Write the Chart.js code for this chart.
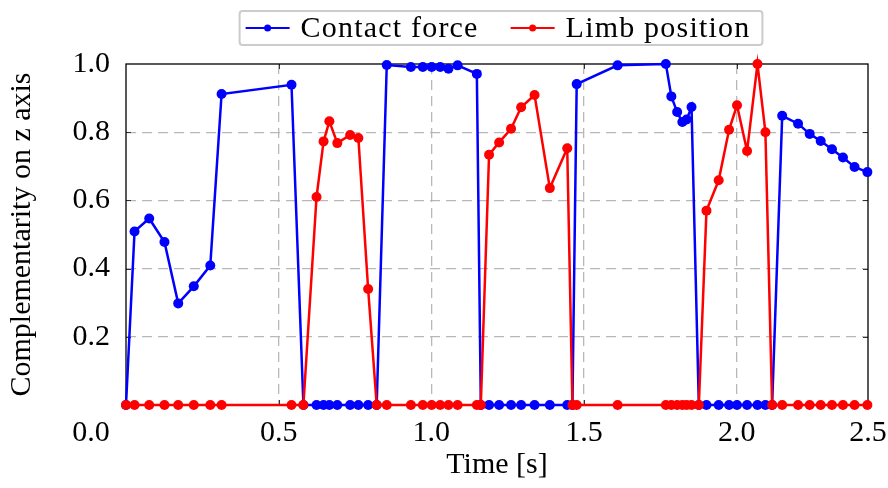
<!DOCTYPE html>
<html>
<head>
<meta charset="utf-8">
<script src="https://cdn.jsdelivr.net/npm/chart.js@4.4.1/dist/chart.umd.min.js"></script>
<style>
  html, body { margin: 0; padding: 0; background: #fff; }
  canvas { display: block; }
</style>
</head>
<body>
<canvas id="chart" width="888" height="488"></canvas>
<script>
// Sample times [s]
const times = [
  0.000, 0.028, 0.076, 0.126, 0.171, 0.222, 0.276, 0.313, 0.542, 0.581,
  0.624, 0.647, 0.666, 0.692, 0.734, 0.761, 0.793, 0.821, 0.854, 0.933,
  0.972, 1.001, 1.029, 1.056, 1.086, 1.149, 1.162, 1.189, 1.222, 1.261,
  1.294, 1.338, 1.388, 1.445, 1.462, 1.476, 1.610, 1.768, 1.786, 1.805,
  1.822, 1.836, 1.852, 1.876, 1.901, 1.941, 1.975, 2.001, 2.034, 2.068,
  2.094, 2.116, 2.149, 2.201, 2.239, 2.275, 2.312, 2.348, 2.386, 2.428
];

const contactForce = [
  0, 0.509, 0.547, 0.478, 0.298, 0.348, 0.409, 0.912, 0.939, 0,
  0, 0, 0, 0, 0, 0, 0, 0, 0.997, 0.991,
  0.991, 0.991, 0.991, 0.986, 0.996, 0.971, 0, 0, 0, 0,
  0, 0, 0, 0, 0, 0.941, 0.996, 1.0, 0.905, 0.859,
  0.830, 0.837, 0.874, 0, 0, 0, 0, 0, 0, 0,
  0, 0, 0.848, 0.825, 0.795, 0.774, 0.750, 0.726, 0.698, 0.683
];

const limbPosition = [
  0, 0, 0, 0, 0, 0, 0, 0, 0, 0,
  0.610, 0.773, 0.832, 0.768, 0.792, 0.783, 0.340, 0, 0, 0,
  0, 0, 0, 0, 0, 0, 0, 0.734, 0.770, 0.810,
  0.873, 0.909, 0.636, 0.753, 0, 0, 0, 0, 0, 0,
  0, 0, 0, 0, 0.570, 0.659, 0.807, 0.879, 0.745, 1.0,
  0.800, 0, 0, 0, 0, 0, 0, 0, 0, 0
];

const seriesNames = ['Contact force', 'Limb position'];
const seriesColors = ['#0000ff', '#ff0000'];

// x ticks: the last one sits on the right edge of the plot
const xTicks = [0.5, 1.0, 1.5, 2.0, 2.43];
const xTickLabels = ['0.5', '1.0', '1.5', '2.0', '2.5'];
const cornerLabel = '0.0';

const FONT = "'Liberation Serif', 'Times New Roman', serif";
const FS = 30;

Chart.defaults.font.family = FONT;
Chart.defaults.font.size = FS;
Chart.defaults.color = '#000';

function toPoints(vals) {
  return times.map((t, i) => ({ x: t, y: vals[i] }));
}

// frame, inner tick marks and the shared 0.0 corner label
const framePlugin = {
  id: 'frame',
  beforeDatasetsDraw(chart) {
    const { ctx, chartArea: a, scales } = chart;
    ctx.save();
    ctx.strokeStyle = '#333';
    ctx.lineWidth = 1;
    xTicks.slice(0, -1).forEach(v => {
      const px = Math.round(scales.x.getPixelForValue(v)) + 0.5;
      ctx.beginPath();
      ctx.moveTo(px, a.bottom); ctx.lineTo(px, a.bottom - 5);
      ctx.moveTo(px, a.top); ctx.lineTo(px, a.top + 5);
      ctx.stroke();
    });
    [0.2, 0.4, 0.6, 0.8].forEach(v => {
      const py = Math.round(scales.y.getPixelForValue(v)) + 0.5;
      ctx.beginPath();
      ctx.moveTo(a.left, py); ctx.lineTo(a.left + 5, py);
      ctx.moveTo(a.right, py); ctx.lineTo(a.right - 5, py);
      ctx.stroke();
    });
    ctx.strokeStyle = '#000';
    ctx.lineWidth = 1.3;
    ctx.strokeRect(a.left, a.top, a.right - a.left, a.bottom - a.top);
    ctx.restore();
  },
  afterDraw(chart) {
    const { ctx, chartArea: a } = chart;
    ctx.save();
    ctx.font = FS + 'px ' + FONT;
    ctx.fillStyle = '#000';
    ctx.textAlign = 'center';
    ctx.textBaseline = 'middle';
    ctx.fillText(cornerLabel, a.left - 35, a.bottom + 28);
    ctx.restore();
  }
};

// pgfplots-like legend box above the plot
const legendPlugin = {
  id: 'boxLegend',
  afterDraw(chart) {
    const { ctx, chartArea: a } = chart;
    ctx.save();
    ctx.font = FS + 'px ' + FONT;
    ctx.letterSpacing = '1.2px';
    const widths = seriesNames.map(n => ctx.measureText(n).width);
    const lineLen = 44, gap = 11, sep = 32, padL = 6, padR = 12;
    const total = padL + widths.reduce((s, w) => s + lineLen + gap + w, 0) + sep * (seriesNames.length - 1) + padR;
    const cx = (a.left + a.right) / 2 + 4;
    const top = 11, h = 34;
    let x = cx - total / 2;
    ctx.strokeStyle = '#cccccc';
    ctx.lineWidth = 2;
    ctx.beginPath();
    ctx.roundRect(x, top, total, h, 3);
    ctx.stroke();
    const my = top + h / 2;
    x += padL;
    seriesNames.forEach((name, i) => {
      ctx.strokeStyle = seriesColors[i];
      ctx.fillStyle = seriesColors[i];
      ctx.lineWidth = 2.2;
      ctx.beginPath();
      ctx.moveTo(x, my); ctx.lineTo(x + lineLen, my);
      ctx.stroke();
      ctx.beginPath();
      ctx.arc(x + lineLen / 2, my, 3.5, 0, Math.PI * 2);
      ctx.fill();
      x += lineLen + gap;
      ctx.fillStyle = '#000';
      ctx.textAlign = 'left';
      ctx.textBaseline = 'middle';
      ctx.fillText(name, x, my + 1);
      x += widths[i] + sep;
    });
    ctx.restore();
  }
};

const hideEdge = (lo, hi) => c => (c.tick.value <= lo || c.tick.value >= hi) ? 'rgba(0,0,0,0)' : '#b8b8b8';

new Chart(document.getElementById('chart'), {
  type: 'line',
  data: {
    datasets: [
      {
        label: seriesNames[0],
        data: toPoints(contactForce),
        borderColor: seriesColors[0],
        backgroundColor: seriesColors[0],
        borderWidth: 2.5,
        pointRadius: 5,
        pointBorderWidth: 0,
        tension: 0,
        clip: false,
        order: 1
      },
      {
        label: seriesNames[1],
        data: toPoints(limbPosition),
        borderColor: seriesColors[1],
        backgroundColor: seriesColors[1],
        borderWidth: 2.5,
        pointRadius: 5,
        pointBorderWidth: 0,
        tension: 0,
        clip: false,
        order: 0
      }
    ]
  },
  options: {
    responsive: false,
    animation: false,
    devicePixelRatio: 1,
    layout: { padding: { top: 64, right: 20, left: 0, bottom: 0 } },
    plugins: {
      legend: { display: false },
      tooltip: { enabled: false }
    },
    scales: {
      x: {
        type: 'linear',
        min: 0,
        max: 2.43,
        afterBuildTicks: s => { s.ticks = xTicks.map(v => ({ value: v })); },
        afterFit: s => { s.height = 83; s.paddingRight = 0; s.paddingLeft = 0; },
        ticks: {
          padding: 10,
          maxRotation: 0,
          autoSkip: false,
          callback: (v, i) => xTickLabels[i]
        },
        grid: { color: hideEdge(0, 2.2), lineWidth: 1.3, drawTicks: false },
        border: { display: false, dash: [10, 6] },
        title: {
          display: true,
          text: 'Time [s]',
          font: { size: FS },
          padding: { top: 0, bottom: 5 }
        }
      },
      y: {
        min: 0,
        max: 1,
        afterFit: s => { s.width = 126; },
        ticks: {
          stepSize: 0.2,
          padding: 16,
          callback: v => (v <= 0 ? '' : v.toFixed(1))
        },
        grid: { color: hideEdge(0.01, 0.99), lineWidth: 1.3, drawTicks: false },
        border: { display: false, dash: [10, 6] },
        title: {
          display: true,
          text: 'Complementarity on z axis',
          font: { size: FS },
          padding: { top: 4, bottom: 0 }
        }
      }
    }
  },
  plugins: [framePlugin, legendPlugin]
});
</script>
</body>
</html>
